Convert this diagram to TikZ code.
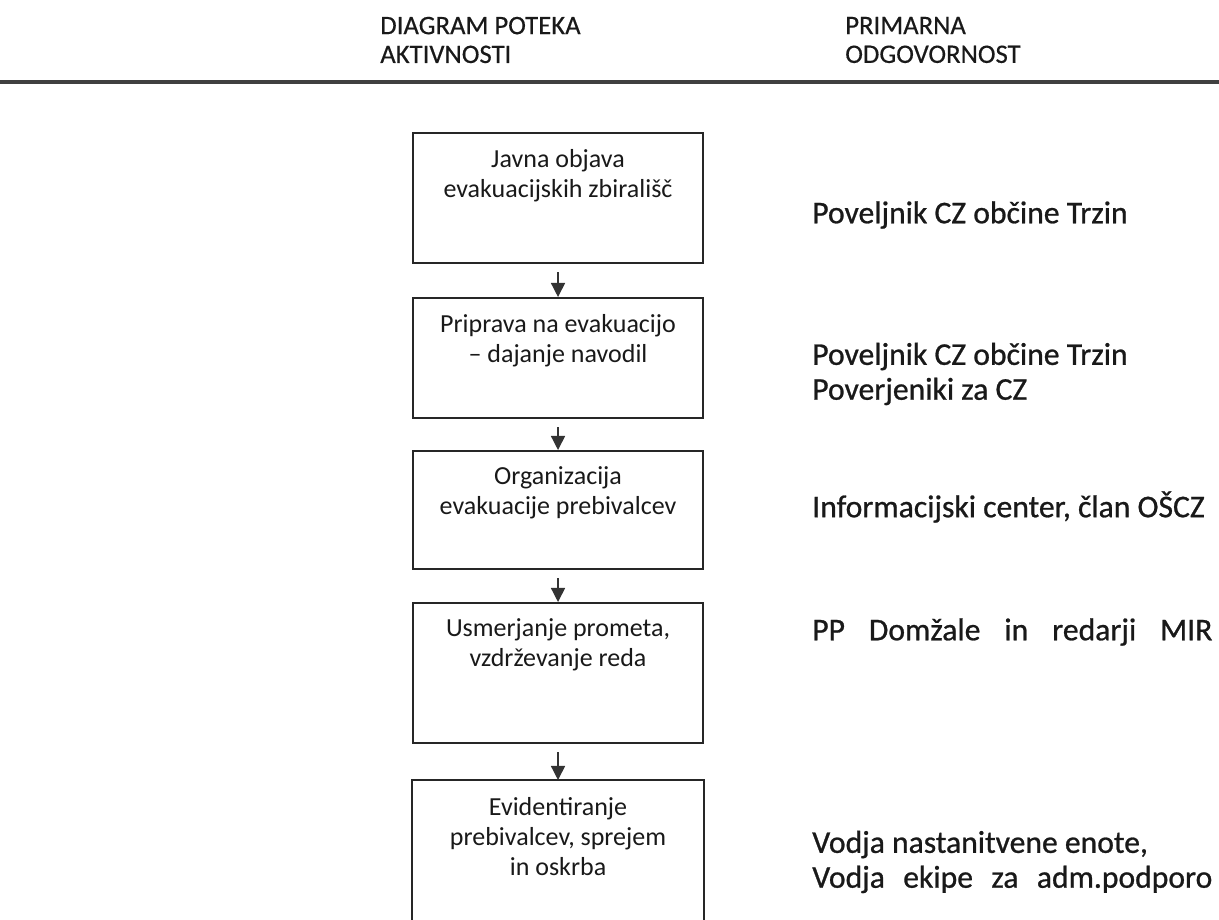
\documentclass[tikz,border=0pt]{standalone}
\usepackage{fontspec}
\setmainfont{Carlito}
\usetikzlibrary{arrows.meta,positioning}

\begin{document}
\begin{tikzpicture}[x=0.025cm,y=-0.025cm,
  box/.style={draw=black!85,line width=1.4pt,inner sep=0pt,anchor=north west,
    minimum width=7.25cm},
  boxtext/.style={align=center,inner sep=0pt,text=black!90,
    font=\fontsize{18.5}{21.3}\selectfont},
  resp/.style={align=left,anchor=west,inner sep=0pt,text=black!90,
    font=\fontsize{22.5}{24.8}\selectfont\addfontfeature{FakeBold=0.8}},
  head/.style={align=left,anchor=west,inner sep=0pt,text=black!90,
    font=\fontsize{19}{20.5}\selectfont\addfontfeature{FakeBold=0.4}},
  rule/.style={draw=black!75,line width=3pt},
  flow/.style={draw=black!80,line width=1pt,-{Triangle[length=10pt,width=10pt]}}]

  \useasboundingbox (0,0) rectangle (1219,920);

  % header
  \node[head] (hflow) at (380,40) {DIAGRAM POTEKA\\AKTIVNOSTI};
  \node[head] (hresp) at (845,40) {PRIMARNA\\ODGOVORNOST};
  \draw[rule] (0,82) -- (1219,82);

  % activity boxes: index/top/height/text
  \foreach \i/\top/\h/\txt in {
    1/132/3.25/{Javna objava\\evakuacijskih zbirališč},
    2/297/3.0/{Priprava na evakuacijo\\– dajanje navodil},
    3/450/2.95/{Organizacija\\evakuacije prebivalcev},
    4/602/3.5/{Usmerjanje prometa,\\vzdrževanje reda}} {
    \node[box,minimum height=\h cm] (b\i) at (412,\top) {};
    \node[boxtext,below=0.42cm of b\i.north] (t\i) {\txt};
  }

  % last box runs off the page
  \node[box,draw=none,minimum height=3.5cm] (b5) at (412,780) {};
  \draw[draw=black!85,line width=1.4pt] (b5.south west) -- (b5.north west)
    -- (b5.north east) -- (b5.south east);
  \node[boxtext,below=0.42cm of b5.north] (t5)
    {Evidentiranje\\prebivalcev, sprejem\\in oskrba};

  \foreach \i [evaluate=\i as \j using int(\i+1)] in {1,...,4}
    \draw[flow] ([yshift=-0.2cm]b\i.south) -- (b\j.north);

  % responsibilities
  \node[resp] (r1) at (812,215) {Poveljnik CZ občine Trzin};
  \node[resp] (r2) at (812,374) {Poveljnik CZ občine Trzin\\Poverjeniki za CZ};
  \node[resp] (r3) at (812,507) {Informacijski center, član OŠCZ};
  \node[resp] (r4) at (812,632) {\makebox[10cm][s]{PP Domžale in redarji MIR}};
  \node[resp] (r5) at (812,862)
    {Vodja nastanitvene enote,\\\makebox[10cm][s]{Vodja ekipe za adm.podporo}};

\end{tikzpicture}
\end{document}
